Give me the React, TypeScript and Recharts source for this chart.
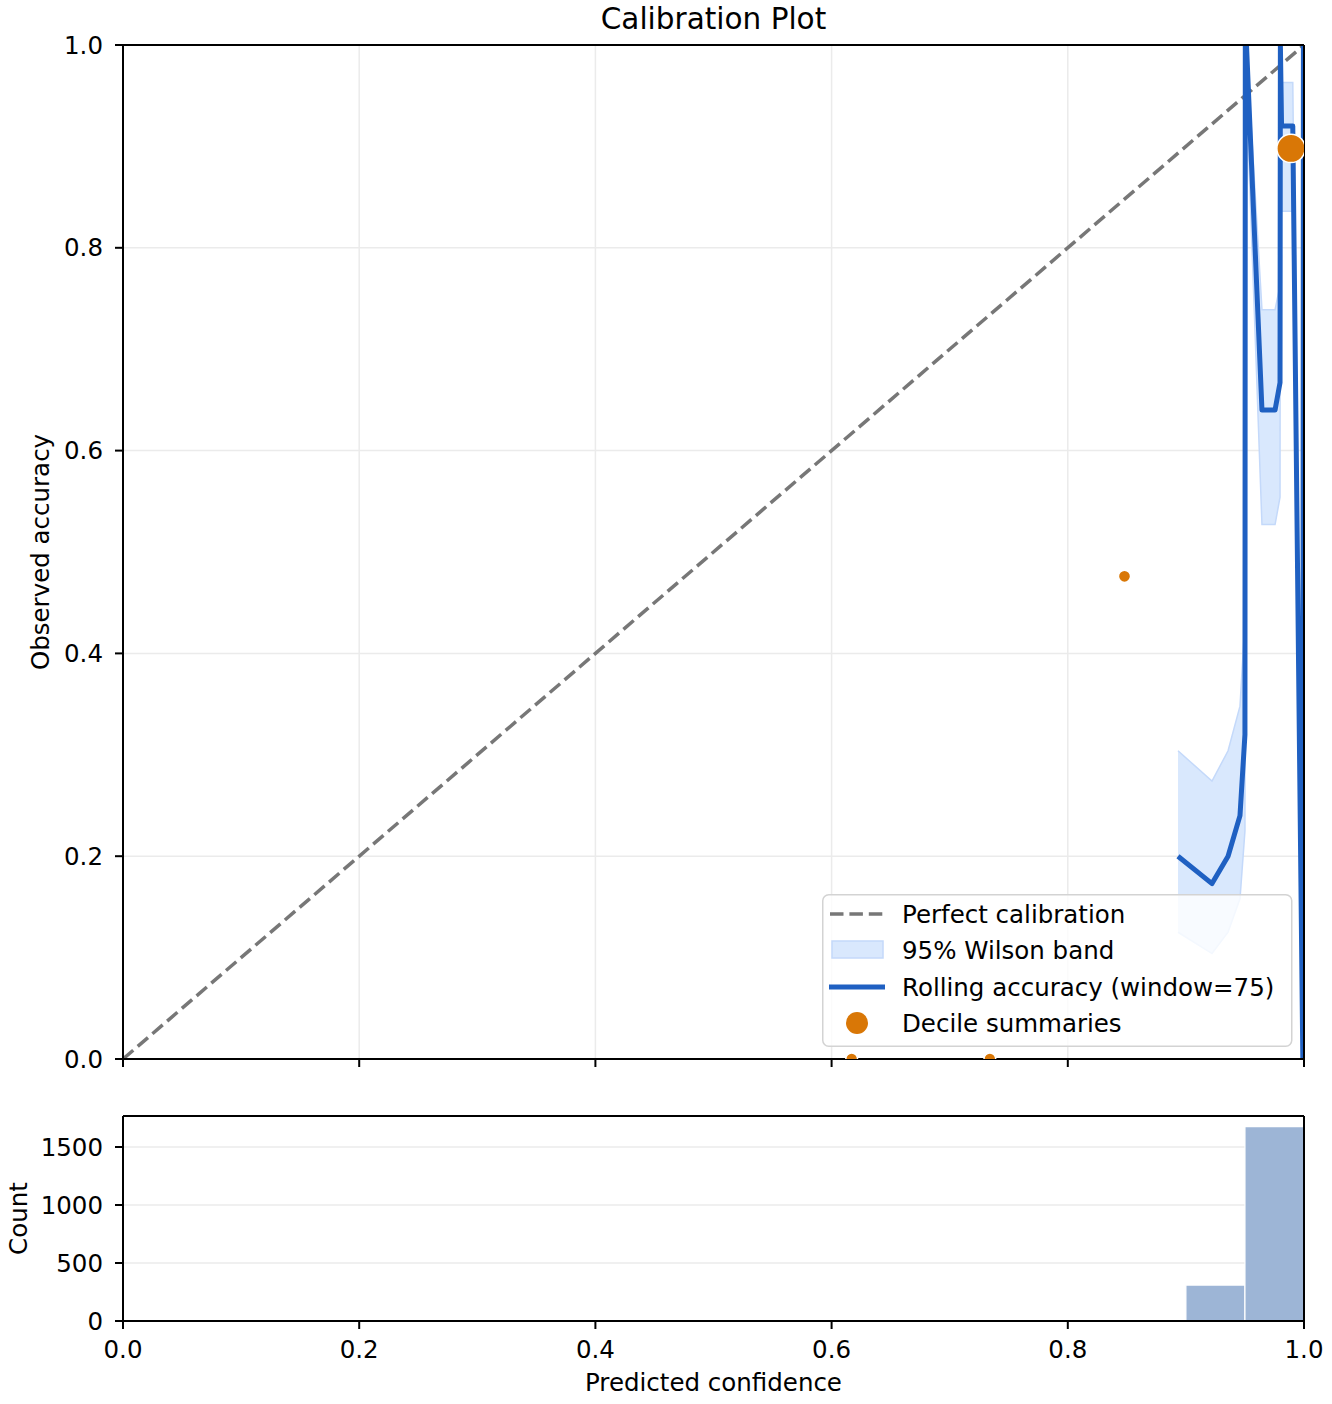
import {
  Area,
  Bar,
  CartesianGrid,
  ComposedChart,
  Legend,
  Line,
  ReferenceLine,
  Scatter,
  XAxis,
  YAxis,
  ZAxis,
} from "recharts";

const FONT = "'DejaVu Sans', sans-serif";

// shared tick positions for the confidence / accuracy axes
const unitTicks = [0, 0.2, 0.4, 0.6, 0.8, 1.0];

// perfect calibration diagonal
const diagX = [0, 1];
const diagY = [0, 1];

// rolling accuracy (window=75) with its 95% Wilson band
const rollX = [
  0.8933, 0.9221, 0.9357, 0.9458, 0.95, 0.9503, 0.9513, 0.9644, 0.9755,
  0.9797, 0.98, 0.981, 0.9905, 0.999, 0.9995,
];
const rollAcc = [
  0.2, 0.173, 0.2, 0.24, 0.32, 1.0, 1.0, 0.64, 0.64, 0.667, 1.0, 0.92, 0.92,
  0.0, 1.0,
];
const bandLow = [
  0.125, 0.104, 0.125, 0.158, 0.225, 0.951, 0.951, 0.527, 0.527, 0.554, 0.951,
  0.836, 0.836, 0.0, 0.951,
];
const bandHigh = [
  0.304, 0.274, 0.304, 0.348, 0.432, 1.0, 1.0, 0.739, 0.739, 0.763, 1.0, 0.963,
  0.963, 0.049, 1.0,
];

// decile summaries (mean confidence, accuracy, sample count)
const decileX = [0.617, 0.734, 0.848, 0.989];
const decileAcc = [0.0, 0.0, 0.476, 0.898];
const decileN = [1, 1, 21, 1959];

// confidence histogram, 20 bins of width 0.05
const binMid = [
  0.025, 0.075, 0.125, 0.175, 0.225, 0.275, 0.325, 0.375, 0.425, 0.475, 0.525,
  0.575, 0.625, 0.675, 0.725, 0.775, 0.825, 0.875, 0.925, 0.975,
];
const binCount = [0, 0, 0, 0, 0, 0, 0, 0, 0, 0, 0, 0, 0, 0, 0, 0, 0, 0, 310, 1675];
const countTicks = [0, 500, 1000, 1500];
const countMax = 1767;

const diagTable = diagX.map((x, i) => ({ x, y: diagY[i] }));
const rollTable = rollX.map((x, i) => ({
  x,
  acc: rollAcc[i],
  band: [bandLow[i], bandHigh[i]],
}));
const decileTable = decileX.map((x, i) => ({ x, y: decileAcc[i], n: decileN[i] }));
const histTable = binMid.map((x, i) => ({ x, count: binCount[i] }));

const BLUE = "#1f60c2";
const BAND_FILL = "#d9e8fd";
const BAND_EDGE = "#c4d9fa";
const ORANGE = "#d97706";
const DASH = "13.5 5.9";

const tickStyle = { fill: "#000", fontSize: 24.5, fontFamily: FONT };
const axisStroke = { stroke: "#000", strokeWidth: 2 };
const fmt = (v: number) => v.toFixed(1);

const legendItems = [
  { label: "Perfect calibration", kind: "dash" },
  { label: "95% Wilson band", kind: "band" },
  { label: "Rolling accuracy (window=75)", kind: "line" },
  { label: "Decile summaries", kind: "dot" },
];

const LegendBox = () => {
  const rows = [20, 56, 93, 129];
  return (
    <svg width={471} height={153} style={{ display: "block" }}>
      <rect
        x={0.75}
        y={0.75}
        width={469}
        height={151.5}
        rx={6}
        fill="#fff"
        fillOpacity={0.8}
        stroke="#d3d3d3"
        strokeWidth={1.5}
      />
      {legendItems.map((item, i) => {
        const cy = rows[i];
        return (
          <g key={item.label}>
            {item.kind === "dash" && (
              <line x1={8} x2={62} y1={cy} y2={cy} stroke="#777" strokeWidth={3.5} strokeDasharray={DASH} />
            )}
            {item.kind === "band" && (
              <rect x={10} y={cy - 9} width={51} height={17} fill={BAND_FILL} stroke={BAND_EDGE} strokeWidth={1.5} />
            )}
            {item.kind === "line" && (
              <line x1={7} x2={63} y1={cy} y2={cy} stroke={BLUE} strokeWidth={5} />
            )}
            {item.kind === "dot" && <circle cx={35} cy={cy} r={11} fill={ORANGE} />}
            <text x={80} y={cy + 8.8} fontSize={24.5} fontFamily={FONT} fill="#000">
              {item.label}
            </text>
          </g>
        );
      })}
    </svg>
  );
};

const App = () => {
  return (
    <div style={{ position: "absolute", left: 0, top: 0, width: 1332, height: 1404, background: "#fff" }}>
      <div
        style={{
          position: "absolute",
          left: 123,
          top: 5,
          width: 1181,
          textAlign: "center",
          fontFamily: FONT,
          fontSize: 29.5,
          lineHeight: 1,
          color: "#000",
        }}
      >
        Calibration Plot
      </div>

      <div style={{ position: "absolute", left: 0, top: 0 }}>
        <ComposedChart width={1332} height={1090} margin={{ top: 45, right: 28, bottom: 0, left: 0 }}>
          <CartesianGrid stroke="#ebebeb" strokeWidth={1.5} />
          <XAxis
            dataKey="x"
            type="number"
            domain={[0, 1]}
            ticks={unitTicks}
            allowDataOverflow
            tick={tickStyle}
            tickFormatter={() => ""}
            tickLine={axisStroke}
            axisLine={axisStroke}
            tickSize={8}
            height={31}
          />
          <YAxis
            type="number"
            domain={[0, 1]}
            ticks={unitTicks}
            allowDataOverflow
            width={123}
            tickFormatter={fmt}
            tick={tickStyle}
            tickLine={axisStroke}
            axisLine={axisStroke}
            tickSize={8}
            tickMargin={12}
            label={{
              value: "Observed accuracy",
              angle: -90,
              position: "insideLeft",
              offset: 40,
              fill: "#000",
              fontSize: 24.5,
              fontFamily: FONT,
              style: { textAnchor: "middle" },
            }}
          />
          <ZAxis dataKey="n" type="number" domain={[0, 2000]} range={[110, 640]} />
          <Area
            data={rollTable}
            dataKey="band"
            type="linear"
            fill={BAND_FILL}
            fillOpacity={1}
            stroke={BAND_EDGE}
            strokeWidth={1.5}
            isAnimationActive={false}
          />
          <Line
            data={diagTable}
            dataKey="y"
            type="linear"
            stroke="#777"
            strokeWidth={3.5}
            strokeDasharray={DASH}
            dot={false}
            activeDot={false}
            isAnimationActive={false}
          />
          <Line
            data={rollTable}
            dataKey="acc"
            type="linear"
            stroke={BLUE}
            strokeWidth={5}
            strokeLinejoin="round"
            dot={false}
            activeDot={false}
            isAnimationActive={false}
          />
          <Scatter
            data={decileTable}
            dataKey="y"
            fill={ORANGE}
            stroke="#fff"
            strokeWidth={1.5}
            isAnimationActive={false}
          />
          <ReferenceLine y={1} stroke="#000" strokeWidth={2} />
          <ReferenceLine x={1} stroke="#000" strokeWidth={2} />
          <Legend
            layout="vertical"
            align="center"
            verticalAlign="middle"
            content={() => <LegendBox />}
            wrapperStyle={{ left: 822, top: 894, width: 471, height: 153 }}
          />
        </ComposedChart>
      </div>

      <div style={{ position: "absolute", left: 0, top: 1090 }}>
        <ComposedChart
          width={1332}
          height={314}
          data={histTable}
          margin={{ top: 26, right: 28, bottom: 0, left: 0 }}
          barCategoryGap={0}
          barGap={0}
        >
          <CartesianGrid vertical={false} stroke="#ebebeb" strokeWidth={1.5} />
          <XAxis
            dataKey="x"
            type="number"
            domain={[0, 1]}
            ticks={unitTicks}
            allowDataOverflow
            tickFormatter={fmt}
            tick={tickStyle}
            tickLine={axisStroke}
            axisLine={axisStroke}
            tickSize={8}
            tickMargin={12}
            height={83}
            label={{
              value: "Predicted confidence",
              position: "insideBottom",
              offset: 13,
              fill: "#000",
              fontSize: 24.5,
              fontFamily: FONT,
            }}
          />
          <YAxis
            type="number"
            domain={[0, countMax]}
            ticks={countTicks}
            allowDataOverflow
            width={123}
            tick={tickStyle}
            tickLine={axisStroke}
            axisLine={axisStroke}
            tickSize={8}
            tickMargin={12}
            label={{
              value: "Count",
              angle: -90,
              position: "insideLeft",
              offset: 18,
              fill: "#000",
              fontSize: 24.5,
              fontFamily: FONT,
              style: { textAnchor: "middle" },
            }}
          />
          <Bar dataKey="count" fill="#9db5d6" stroke="#fff" strokeWidth={1.2} isAnimationActive={false} />
          <ReferenceLine y={countMax} stroke="#000" strokeWidth={2} />
          <ReferenceLine x={1} stroke="#000" strokeWidth={2} />
        </ComposedChart>
      </div>
    </div>
  );
};

export default App;
